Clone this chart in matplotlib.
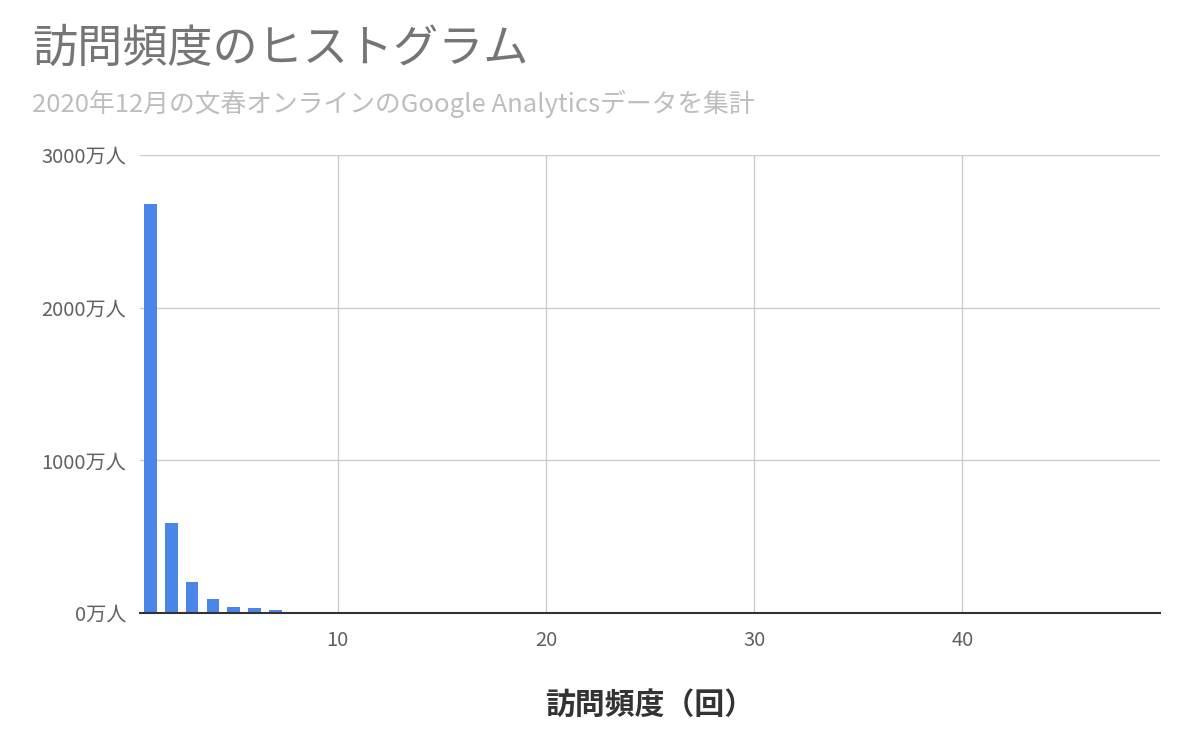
import matplotlib.pyplot as plt

plt.rcParams['font.family'] = ['Noto Sans CJK JP', 'DejaVu Sans']

# visit frequency (times) and number of users (in 10k people)
visits = [1, 2, 3, 4, 5, 6, 7, 8, 9, 10, 11, 12]
users = [2680, 590, 205, 92, 42, 30, 20, 6, 4, 3, 2, 2]
yticks = [0, 1000, 2000, 3000]
ylabels = ['0万人', '1000万人', '2000万人', '3000万人']
xticks = [10, 20, 30, 40]

fig = plt.figure(figsize=(12, 7.54), dpi=100)
ax = fig.add_axes([0.1167, 0.187, 0.85, 0.6074])

ax.bar(visits, users, width=0.6, color='#4a86e8', zorder=3)

ax.set_xlim(0.5, 49.5)
ax.set_ylim(0, 3000)
ax.set_yticks(yticks)
ax.set_yticklabels(ylabels)
ax.set_xticks(xticks)
ax.grid(True, color='#cccccc', linewidth=1, zorder=0)
for s in ['top', 'right', 'left']:
    ax.spines[s].set_visible(False)
ax.spines['bottom'].set_color('#333333')
ax.spines['bottom'].set_linewidth(1.5)
ax.spines['bottom'].set_zorder(4)
ax.tick_params(length=0, labelsize=14.5, colors='#616161', pad=10)
ax.tick_params(axis='x', pad=12)

ax.set_xlabel('訪問頻度（回）', fontsize=21.5, fontweight='bold', color='#333333', labelpad=28)

fig.text(0.027, 0.935, '訪問頻度のヒストグラム', fontsize=32.5, color='#757575', va='center')
fig.text(0.027, 0.862, '2020年12月の文春オンラインのGoogle Analyticsデータを集計', fontsize=18.5, color='#bdbdbd', va='center')

fig.savefig('out.png')
